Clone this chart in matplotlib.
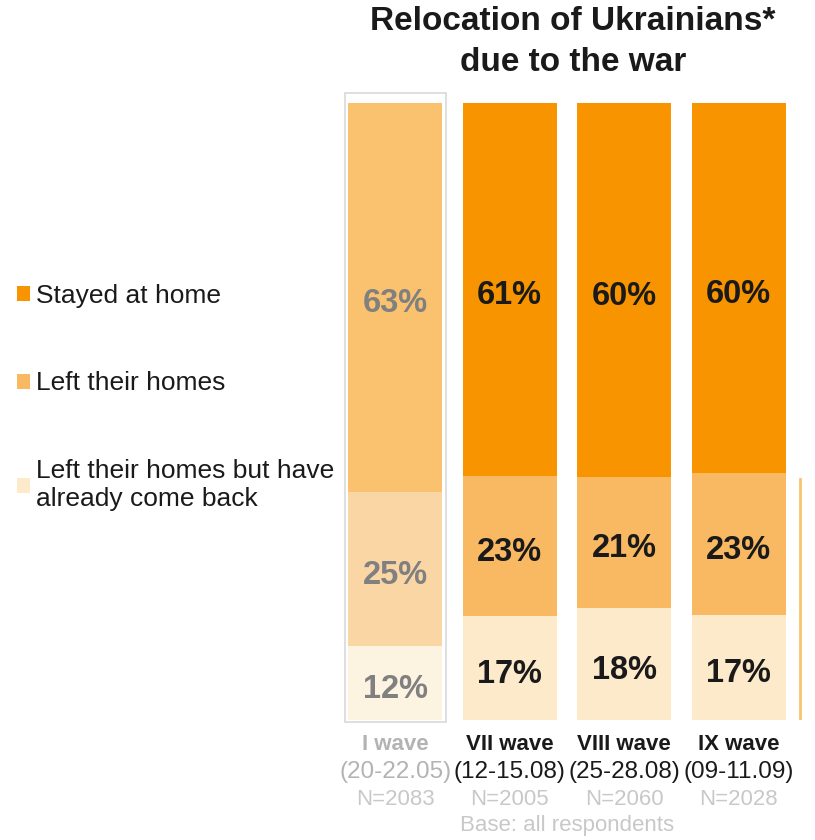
import matplotlib
matplotlib.use("Agg")
import numpy as np
import matplotlib.pyplot as plt
from matplotlib.patches import Rectangle

plt.rcParams['font.family'] = ['Liberation Sans', 'DejaVu Sans']

# Data
waves = ["I wave", "VII wave", "VIII wave", "IX wave"]
dates = ["(20-22.05)", "(12-15.08)", "(25-28.08)", "(09-11.09)"]
samples = ["N=2083", "N=2005", "N=2060", "N=2028"]
categories = ["Stayed at home", "Left their homes",
              "Left their homes but have\nalready come back"]
stayed = [63, 61, 60, 60]
left = [25, 23, 21, 23]
came_back = [12, 17, 18, 17]
colors = ["#F79400", "#F9B862", "#FDEACB"]

fig = plt.figure(figsize=(8.15, 8.4), dpi=100)
ax = fig.add_axes([338 / 815, 120 / 840, 477 / 815, 617 / 840])

series = np.array([stayed, left, came_back], dtype=float)
totals = series.sum(axis=0)
heights = series / totals * 100   # every bar reaches the top
x = np.arange(len(waves))
width = 0.82

# stack from the bottom: came back, left, stayed
order = [2, 1, 0]
bottoms = np.zeros(len(waves))
containers = {}
for k in order:
    bars = ax.bar(x, heights[k], width, bottom=bottoms, color=colors[k],
                  linewidth=0, label=categories[k])
    bars[0].set_alpha(0.57)   # first wave faded
    containers[k] = bars
    for i in range(len(waves)):
        c = "#808080" if i == 0 else "#1a1a1a"
        ax.text(x[i], bottoms[i] + heights[k][i] / 2 - 1.0, "%d%%" % series[k][i],
                ha="center", va="center", fontsize=23.5, fontweight="bold", color=c)
    bottoms += heights[k]

# faint frame around the first wave
ax.add_patch(Rectangle((x[0] - width / 2 - 0.03, -0.3), width + 0.06, 101.9,
                       fill=False, edgecolor="#d9d9d9", lw=1.2, clip_on=False))
ax.axvline(3.535, ymin=0, ymax=0.39, color="#F9C46A", lw=2)

ax.set_xlim(-0.5, 3.666)
ax.set_ylim(0, 100)
ax.axis("off")

# labels under the bars
for i in range(len(waves)):
    c1 = "#b3b3b3" if i == 0 else "#1a1a1a"
    ax.annotate(waves[i], (x[i], 0), xycoords=("data", "axes fraction"),
                xytext=(0, -17.5), textcoords="offset points", ha="center",
                va="center", fontsize=16, fontweight="bold", color=c1)
    ax.annotate(dates[i], (x[i], 0), xycoords=("data", "axes fraction"),
                xytext=(0, -37.5), textcoords="offset points", ha="center",
                va="center", fontsize=17.5, color=c1)
    ax.annotate(samples[i], (x[i], 0), xycoords=("data", "axes fraction"),
                xytext=(0, -57.5), textcoords="offset points", ha="center",
                va="center", fontsize=16, color="#c8c8c8")
ax.annotate("Base: all respondents", (1.5, 0), xycoords=("data", "axes fraction"),
            xytext=(0, -76), textcoords="offset points", ha="center",
            va="center", fontsize=16, color="#c8c8c8")

fig.text(0.703, 0.95, "Relocation of Ukrainians*\ndue to the war", ha="center",
         va="center", fontsize=24, fontweight="bold", color="#1a1a1a",
         linespacing=1.38)

handles = [containers[0][1], containers[1][1], containers[2][1]]
leg = fig.legend(handles, categories, loc="center left",
                 bbox_to_anchor=(0.021, 0.527), frameon=False, fontsize=19,
                 handlelength=0.5, handleheight=0.5, handletextpad=0.2,
                 labelspacing=2.42, borderpad=0, borderaxespad=0)
for t in leg.get_texts():
    t.set_color("#1a1a1a")

fig.savefig("out.png", dpi=100)
